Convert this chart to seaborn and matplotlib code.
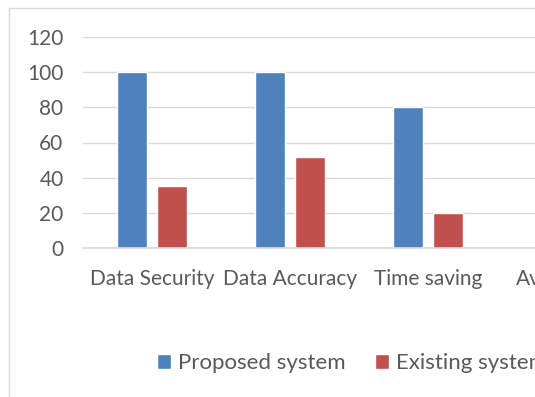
import matplotlib
matplotlib.use("Agg")
import matplotlib.pyplot as plt
from matplotlib.lines import Line2D
import seaborn as sns
import pandas as pd
import numpy as np

categories = ["Data Security", "Data Accuracy", "Time saving", "Availability"]
series_names = ["Proposed system", "Existing system"]
proposed = [100, 100, 80, np.nan]
existing = [35, 52, 20, np.nan]
y_ticks = [0, 20, 40, 60, 80, 100, 120]

df = pd.DataFrame({
    "category": categories * 2,
    "value": proposed + existing,
    "series": [series_names[0]] * len(categories) + [series_names[1]] * len(categories),
})

sns.set_theme(style="white")
plt.rcParams["font.family"] = ["Lato", "DejaVu Sans"]
TXT = "#595959"

fig = plt.figure(figsize=(5.35, 3.97), dpi=100)
W, H = 535, 397
left, right, top, bottom = 83, 635, 37, 248
ax = fig.add_axes([left / W, 1 - bottom / H, (right - left) / W, (bottom - top) / H])

sns.barplot(data=df, x="category", y="value", hue="series", order=categories,
            hue_order=series_names, palette=["#4F81BD", "#C0504D"],
            width=0.575, gap=0.23, ax=ax, legend=True, errorbar=None, saturation=1)

ax.set_ylim(0, 120)
ax.set_xlim(-0.5, 3.5)
ax.set_yticks(y_ticks)
ax.set_xlabel("")
ax.set_ylabel("")
ax.grid(axis="y", color="#D9D9D9", linewidth=1)
ax.set_axisbelow(True)
for s in ["left", "right", "top"]:
    ax.spines[s].set_visible(False)
ax.spines["bottom"].set_color("#D9D9D9")
ax.tick_params(axis="y", length=0, pad=14, labelsize=15, labelcolor=TXT)
ax.tick_params(axis="x", length=0, pad=15, labelsize=15, labelcolor=TXT)

handles, labels = ax.get_legend_handles_labels()
ax.get_legend().remove()
fig.legend(handles, labels, loc="center left", bbox_to_anchor=(157 / W, 1 - 363 / H),
           ncol=2, frameon=False, fontsize=16, labelcolor=TXT,
           borderaxespad=0, borderpad=0,
           handlelength=0.65, handleheight=0.65, handletextpad=0.3, columnspacing=1.3)

fig.add_artist(Line2D([9 / W, 9 / W], [0, 1 - 8 / H], transform=fig.transFigure, color="#D9D9D9", lw=1))
fig.add_artist(Line2D([9 / W, 1], [1 - 8 / H, 1 - 8 / H], transform=fig.transFigure, color="#D9D9D9", lw=1))

fig.savefig("out.png", dpi=100)
